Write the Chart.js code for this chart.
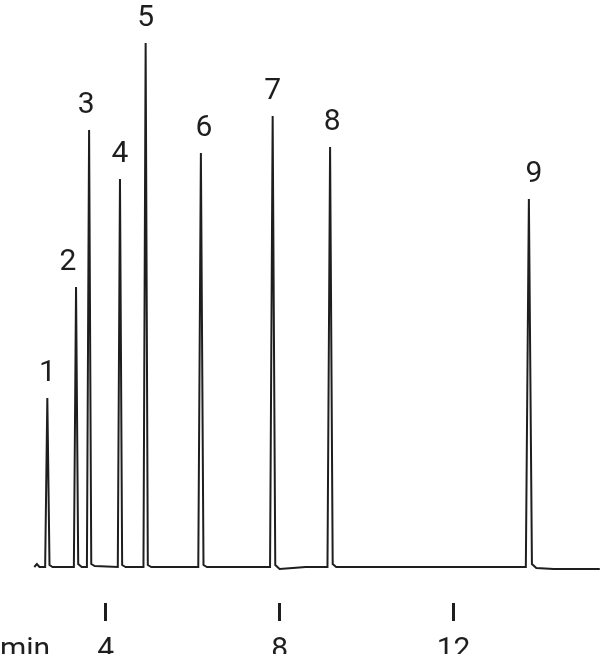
<!DOCTYPE html>
<html>
<head>
<meta charset="utf-8">
<script src="https://cdn.jsdelivr.net/npm/chart.js@4/dist/chart.umd.min.js"></script>
<style>
  html, body { margin: 0; padding: 0; background: #fff; }
  #wrap { width: 600px; height: 654px; position: relative; }
</style>
</head>
<body>
<div id="wrap"><canvas id="chrom"></canvas></div>
<script>
// Peak table (retention time in min, height in detector units)
const peakLabels = ['1', '2', '3', '4', '5', '6', '7', '8', '9'];
const peakTimes = [2.66, 3.32, 3.62, 4.33, 4.92, 6.19, 7.84, 9.16, 13.73];
const peakHeights = [169, 280, 437, 388, 524, 414, 451, 420, 368];

// Detector trace
const traceTimes = [
  2.36, 2.42, 2.48, 2.61, 2.66, 2.71, 2.78,
  3.27, 3.32, 3.37, 3.45,
  3.57, 3.62, 3.67, 3.75,
  4.28, 4.33, 4.38, 4.46,
  4.87, 4.92, 4.97, 5.05,
  6.13, 6.19, 6.25, 6.33,
  7.78, 7.84, 7.90, 8.00, 8.30, 8.60,
  9.10, 9.16, 9.22, 9.30,
  13.66, 13.73, 13.80, 13.90, 14.30, 15.36
];
const traceSignal = [
  0, 3, 0, 0, 169, 2, 0,
  0, 280, 3, 0,
  0, 437, 3, 1,
  0, 388, 2, 0,
  0, 524, 2, 0,
  0, 414, 2, 0,
  0, 451, 2, -2, -1, 0,
  0, 420, 3, 0,
  0, 368, 3, -1, -2, -2
];

const xTicks = [4, 8, 12];
const axisUnit = 'min.';

const ink = '#1e1e1e';
const labelFont = { family: 'Roboto', size: 30 };

const tracePoints = traceTimes.map(function(t, i) {
  return { x: t, y: traceSignal[i] };
});

// Peak numbers above each apex
const peakLabelPlugin = {
  id: 'peakLabels',
  afterDatasetsDraw: function(chart) {
    const ctx = chart.ctx;
    const xs = chart.scales.x;
    const ys = chart.scales.y;
    const nudge = { '2': -8, '6': 3, '8': 2, '9': 5, '3': -3 };
    ctx.save();
    ctx.fillStyle = ink;
    ctx.font = labelFont.size + 'px ' + labelFont.family;
    ctx.textAlign = 'center';
    ctx.textBaseline = 'alphabetic';
    peakLabels.forEach(function(lbl, i) {
      const px = xs.getPixelForValue(peakTimes[i]) + (nudge[lbl] || 0);
      const py = ys.getPixelForValue(peakHeights[i]) - 17;
      ctx.fillText(lbl, px, py);
    });
    ctx.restore();
  }
};

// "min." unit written in line with the tick labels
const unitPlugin = {
  id: 'unitLabel',
  afterDraw: function(chart) {
    const items = chart.scales.x.getLabelItems();
    if (!items.length) return;
    const it = items[0];
    const ctx = chart.ctx;
    ctx.save();
    ctx.fillStyle = ink;
    ctx.font = labelFont.size + 'px ' + labelFont.family;
    ctx.textAlign = 'left';
    ctx.textBaseline = it.options.textBaseline;
    ctx.fillText(axisUnit, 0, it.options.translation[1] + (it.textOffset || 0));
    ctx.restore();
  }
};

new Chart(document.getElementById('chrom'), {
  type: 'line',
  data: {
    datasets: [{
      data: tracePoints,
      borderColor: ink,
      borderWidth: 2,
      pointRadius: 0,
      tension: 0,
      fill: false
    }]
  },
  options: {
    responsive: true,
    maintainAspectRatio: false,
    animation: false,
    layout: { padding: 0 },
    plugins: {
      legend: { display: false },
      tooltip: { enabled: false }
    },
    scales: {
      x: {
        type: 'linear',
        min: 1.572,
        max: 15.365,
        afterBuildTicks: function(scale) {
          scale.ticks = xTicks.map(function(v) { return { value: v }; });
        },
        afterFit: function(scale) {
          scale.height = 51;
        },
        border: { display: false },
        grid: {
          display: true,
          drawOnChartArea: false,
          drawTicks: true,
          tickLength: 18,
          tickWidth: 3,
          tickColor: ink
        },
        ticks: {
          color: ink,
          font: labelFont,
          padding: 11,
          maxRotation: 0,
          includeBounds: false
        }
      },
      y: {
        display: false,
        min: -36,
        max: 567
      }
    }
  },
  plugins: [peakLabelPlugin, unitPlugin]
});
</script>
</body>
</html>
